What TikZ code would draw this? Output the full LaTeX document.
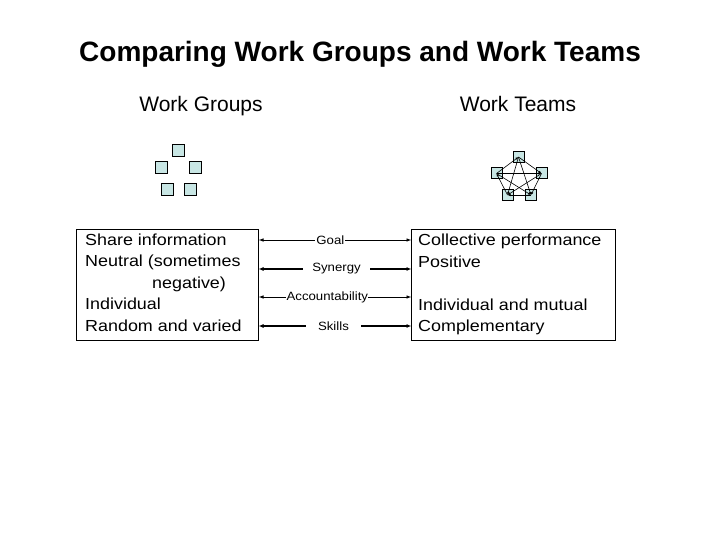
\documentclass[tikz,border=0pt]{standalone}
\usepackage{fontspec}
\setmainfont{Liberation Sans}
\newfontfamily\bodyfont[FakeStretch=1.12]{Liberation Sans}
\newfontfamily\lblfont[FakeStretch=1.1]{Liberation Sans}
\usetikzlibrary{arrows.meta}
\definecolor{sqfill}{RGB}{200,230,228}
\begin{document}
\begin{tikzpicture}[x=1pt,y=-1pt,
  sq/.style={draw=black,line width=1pt,fill=sqfill,minimum size=#1,inner sep=0pt},
  sq/.default=12pt,
  bigbox/.style={draw=black,line width=0.6pt},
  bodytext/.style={font=\bodyfont\fontsize{16}{21.5}\selectfont,anchor=north west,align=left,inner sep=0pt},
  lbl/.style={font=\lblfont\fontsize{12}{14}\selectfont,fill=white,inner sep=1pt},
  thinarrow/.style={{Latex[length=5pt,width=3.5pt]}-{Latex[length=5pt,width=3.5pt]},line width=0.8pt},
  thickarrow/.style={{Latex[length=5pt,width=4pt]}-{Latex[length=5pt,width=4pt]},line width=1.8pt},
  web/.style={line width=0.6pt,-{Latex[length=3pt,width=2.5pt]}}
]
\useasboundingbox (0,0) rectangle (720,540);
\node[anchor=base] (title) at (360,62) {\fontsize{28}{32}\selectfont\bfseries Comparing Work Groups and Work Teams};
\node[anchor=base] (wg) at (201,111.5) {\fontsize{21}{24}\selectfont Work Groups};
\node[anchor=base] (wt) at (518,111.5) {\fontsize{21}{24}\selectfont Work Teams};

% work group squares
\node[sq] (g1) at (178,151) {};
\node[sq] (g2) at (161.5,167.5) {};
\node[sq] (g3) at (195,167.5) {};
\node[sq] (g4) at (167.5,190) {};
\node[sq] (g5) at (190,190) {};

% work team squares
\node[sq=11pt] (t1) at (518.5,157) {};
\node[sq=11pt] (t2) at (496.5,173.5) {};
\node[sq=11pt] (t3) at (541.5,173.5) {};
\node[sq=11pt] (t4) at (507.5,195) {};
\node[sq=11pt] (t5) at (531,195) {};
\foreach \a/\b in {t2/t1,t1/t3,t3/t5,t5/t4,t4/t2,t2/t3,t1/t4,t1/t5,t2/t5,t3/t4}
  \draw[web] (\a.center) -- (\b.center);

% boxes
\node[bigbox,minimum width=182pt,minimum height=111pt,anchor=north west] (lb) at (76,229) {};
\node[bigbox,minimum width=204pt,minimum height=111pt,anchor=north west] (rb) at (411,229) {};
\node[bodytext] (lt) at (85,233.5) {Share information\\Neutral (sometimes\\\hspace*{67pt}negative)\\Individual\\Random and varied};
\node[bodytext] (rt) at (418,234) {Collective performance\\Positive\\[21.5pt]Individual and mutual\\Complementary};

% connectors
\coordinate (l1) at (258.5,240); \coordinate (r1) at (411.5,240);
\coordinate (l2) at (258.5,269); \coordinate (r2) at (411.5,269);
\coordinate (l3) at (258.5,297); \coordinate (r3) at (411.5,297);
\coordinate (l4) at (258.5,326); \coordinate (r4) at (411.5,326);
\draw[thinarrow] (l1) -- (r1) node[lbl,pos=0.47] (goal) {Goal};
\draw[thickarrow] (l2) -- (r2) node[lbl,pos=0.51,minimum width=67pt] (syn) {Synergy};
\draw[thinarrow] (l3) -- (r3) node[lbl,pos=0.45,inner xsep=0.3pt] (acc) {Accountability};
\draw[thickarrow] (l4) -- (r4) node[lbl,pos=0.49,minimum width=55pt] (sk) {Skills};
\end{tikzpicture}
\end{document}
